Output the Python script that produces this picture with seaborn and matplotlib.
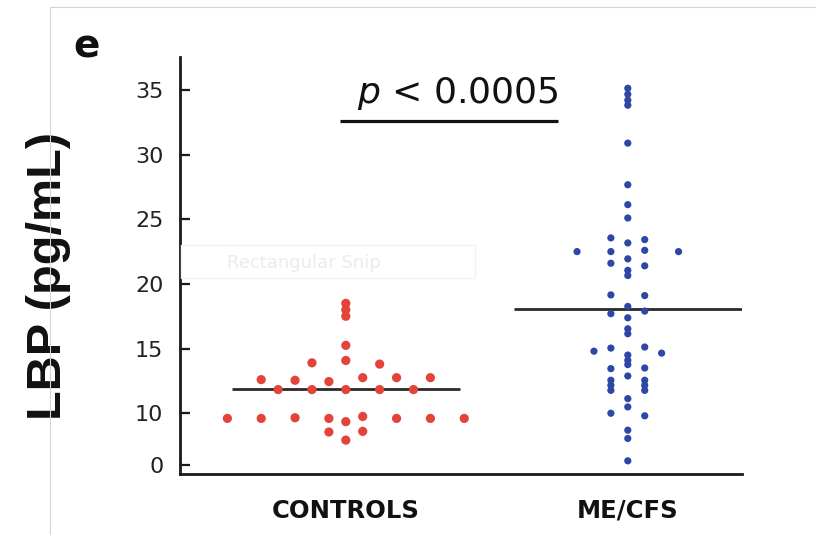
import numpy as np
import pandas as pd
import matplotlib
matplotlib.use("Agg")
import matplotlib.pyplot as plt
from matplotlib.lines import Line2D
from matplotlib.patches import Rectangle
import seaborn as sns

# ---------------- data ----------------
categories = ["CONTROLS", "ME/CFS"]

controls_values = [
    18.5, 18.0, 17.5,
    15.25,
    13.9, 14.08, 13.8,
    12.6, 12.55, 12.45, 12.75, 12.75, 12.75,
    11.83, 11.83, 11.83, 11.83, 11.83,
    9.6, 9.6, 9.65, 9.6, 9.75, 9.6, 9.6, 9.6,
    9.35,
    8.55, 8.6,
    7.92,
]

mecfs_values = [
    35.13, 34.67, 34.21, 33.82, 30.89, 27.67, 26.13, 25.1,
    23.56, 23.43, 23.17,
    22.5, 22.5, 22.6, 22.5,
    21.94,
    21.6, 21.4,
    21.05, 20.65,
    19.15, 19.1,
    18.26,
    17.7, 17.9,
    17.38, 16.53, 16.15,
    15.04, 15.12,
    14.8, 14.5, 14.65,
    14.09, 13.76,
    13.45, 13.5,
    12.88,
    12.55, 12.55, 12.16, 12.16, 11.77, 11.77,
    11.13, 10.49,
    10.0, 9.8,
    8.69, 8.05, 6.32,
]

group_lines = [11.85, 18.1]          # horizontal lines drawn per group
y_ticks = [10, 15, 20, 25, 30, 35]
p_label = "$p$ < 0.0005"
y_label = "LBP (pg/mL)"
panel_label = "e"

colors = {"CONTROLS": "#E4433A", "ME/CFS": "#2E47A6"}
marker_sizes = {"CONTROLS": 44, "ME/CFS": 27}


def column_offsets(values, step=0.12, gap=0.22):
    """Dot-plot layout: values closer than `gap` share a row and are spread
    horizontally around the category centre (in data order)."""
    vals = np.asarray(values, dtype=float)
    order = np.argsort(vals, kind="stable")
    groups, cur = [], [order[0]]
    for a, b in zip(order[:-1], order[1:]):
        if vals[b] - vals[a] <= gap:
            cur.append(b)
        else:
            groups.append(cur)
            cur = [b]
    groups.append(cur)
    offs = np.zeros(len(vals))
    for g in groups:
        g = sorted(g)
        n = len(g)
        for i, idx in enumerate(g):
            offs[idx] = (i - (n - 1) / 2) * step
    return offs


frames = []
for i, (cat, vals) in enumerate(zip(categories, [controls_values, mecfs_values])):
    frames.append(pd.DataFrame({
        "group": cat,
        "value": vals,
        "x": i + column_offsets(vals),
    }))
df = pd.concat(frames, ignore_index=True)

# ---------------- style ----------------
sns.set_theme(style="white")
plt.rcParams["font.family"] = ["DejaVu Sans"]
plt.rcParams["mathtext.fontset"] = "dejavusans"

W, H = 816, 535
fig = plt.figure(figsize=(W / 100, H / 100), dpi=100)
fig.patch.set_facecolor("white")

ax_left, ax_right, ax_top, ax_bottom = 180, 742, 57, 473.5
ax = fig.add_axes([ax_left / W, 1 - ax_bottom / H,
                   (ax_right - ax_left) / W, (ax_bottom - ax_top) / H])

# faint screenshot artefacts (frame + snip watermark)
fig.add_artist(Line2D([49.5 / W, 49.5 / W], [0, 1 - 7 / H], color="#d4d4d4", lw=0.8))
fig.add_artist(Line2D([49.5 / W, 1], [1 - 7 / H, 1 - 7 / H], color="#d4d4d4", lw=0.8))
fig.add_artist(Rectangle((181 / W, 1 - 278 / H), (475 - 181) / W, 33 / H,
                         transform=fig.transFigure, fill=False,
                         edgecolor="#f3f3f3", lw=1))
fig.text(304 / W, 1 - 263 / H, "Rectangular Snip", fontsize=13,
         color="#ebebeb", ha="center", va="center")

for cat in categories:
    sub = df[df["group"] == cat]
    sns.scatterplot(data=sub, x="x", y="value", color=colors[cat],
                    s=marker_sizes[cat], edgecolor="none", linewidth=0,
                    ax=ax, legend=False, zorder=3)

half = 0.405
ax.hlines(group_lines, [i - half for i in range(len(categories))],
          [i + half for i in range(len(categories))],
          color="#2a2a2a", lw=2, zorder=2)

# significance bar
ax.plot([-0.02, 0.753], [32.6, 32.6], color="#111111", lw=2.3,
        solid_capstyle="butt", clip_on=False)
ax.text(0.753, 34.0, p_label, fontsize=26, ha="right", va="baseline",
        color="#111111")

ax.set_xlim(-0.588, 1.405)
ax.set_ylim(5.34, 37.55)

ax.set_xticks(range(len(categories)), labels=categories)
ax.set_yticks([6.0] + y_ticks, labels=["0"] + [str(t) for t in y_ticks])
ax.yaxis.get_major_ticks()[0].tick1line.set_visible(False)

ax.tick_params(axis="y", direction="in", length=7.5, width=1.6, pad=12,
               labelsize=16, labelcolor="#222222", color="#1a1a1a", left=True)
ax.tick_params(axis="x", length=0, pad=18, labelsize=17.5)
for lab in ax.get_xticklabels():
    lab.set_fontweight("bold")
    lab.set_color("#111111")

for side in ["top", "right"]:
    ax.spines[side].set_visible(False)
for side in ["left", "bottom"]:
    ax.spines[side].set_linewidth(2)
    ax.spines[side].set_color("#1a1a1a")

ax.set_xlabel("")
ax.set_ylabel(y_label, fontsize=35, fontweight="bold",
              family=["Liberation Sans", "DejaVu Sans"], color="#111111")
ax.yaxis.set_label_coords((71 - ax_left) / (ax_right - ax_left),
                          (ax_bottom - 276) / (ax_bottom - ax_top))

fig.text(86.5 / W, 1 - 46.5 / H, panel_label, fontsize=28, fontweight="bold",
         ha="center", va="center", color="#111111")

fig.savefig("out.png", dpi=100, facecolor="white")
